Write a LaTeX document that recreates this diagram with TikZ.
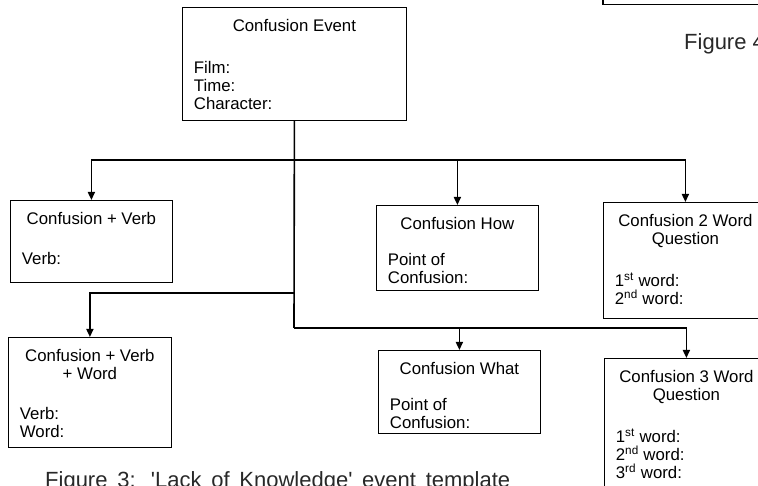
\documentclass[tikz,border=0pt]{standalone}
\usepackage{fontspec}
\setmainfont{Liberation Sans}
\usetikzlibrary{arrows.meta}
\definecolor{capgray}{RGB}{40,40,40}
\newcommand{\cbox}[5]{%
  \parbox[b][#2][t]{#1}{\lineskiplimit=-100pt\vspace*{11.4pt}\centering#3\par\vspace{#4}\raggedright\leftskip=11.5pt #5\par}}
\begin{document}
\begin{tikzpicture}[x=1pt,y=-1pt,
  box/.style={draw=black, line width=0.8pt, inner sep=0pt, anchor=north west,
              font=\fontsize{16.8}{18}\selectfont},
  conn/.style={line width=1.6pt},
  arr/.style={conn, -{Triangle[width=7pt,length=8pt]}},
  figcap/.style={anchor=base west, inner sep=0pt, text=capgray,
              font=\fontsize{22}{24}\selectfont}]
\useasboundingbox (0,0) rectangle (758,486);
\clip (0,0) rectangle (758,486);

% partial box at top right (cut off)
\draw[line width=1.4pt] (603,-30) rectangle (800,4.5);
\node[figcap] (fig4) at (684,50) {Figure 4};

% boxes
\node[box] (T) at (182,7) {\cbox{224pt}{113pt}{\strut Confusion Event}{24pt}{\strut Film:\\\strut Time:\\\strut Character:}};
\node[box] (A) at (10,200) {\cbox{162pt}{82pt}{\strut Confusion + Verb}{22pt}{\strut Verb:}};
\node[box] (B) at (376,205) {\cbox{162pt}{85pt}{\strut Confusion How}{18pt}{\strut Point of\\\strut Confusion:}};
\node[box] (C) at (603,202) {\cbox{164pt}{116pt}{\strut Confusion 2 Word\\\strut Question}{24pt}{\strut 1\textsuperscript{st} word:\\\strut 2\textsuperscript{nd} word:}};
\node[box] (D) at (8,337) {\cbox{163pt}{110pt}{\strut Confusion + Verb\\\strut + Word}{22pt}{\strut Verb:\\\strut Word:}};
\node[box] (E) at (378,350) {\cbox{162pt}{83pt}{\strut Confusion What}{18pt}{\strut Point of\\\strut Confusion:}};
\node[box] (F) at (604,358) {\cbox{164pt}{150pt}{\strut Confusion 3 Word\\\strut Question}{24pt}{\strut 1\textsuperscript{st} word:\\\strut 2\textsuperscript{nd} word:\\\strut 3\textsuperscript{rd} word:}};

% junctions
\coordinate (j1) at (294,160);
\coordinate (j2) at (294,293);
\coordinate (j3) at (294,328);

% connectors
\draw[conn] (T.south) -- (j3);
\draw[arr] (j1) -| (A.north);
\draw[arr] (j1) -| (C.north);
\draw[arr] (j1 -| B.north) -- (B.north);
\draw[arr] (j2) -| (D.north);
\draw[arr] (j3) -| (F.north);
\draw[arr] (j3 -| E.north) -- (E.north);

% caption (cut off at the bottom edge)
\node[figcap] (fig3) at (45,487) {\makebox[465pt][s]{Figure 3: \textquotesingle Lack of Knowledge\textquotesingle\ event template}};
\end{tikzpicture}
\end{document}
